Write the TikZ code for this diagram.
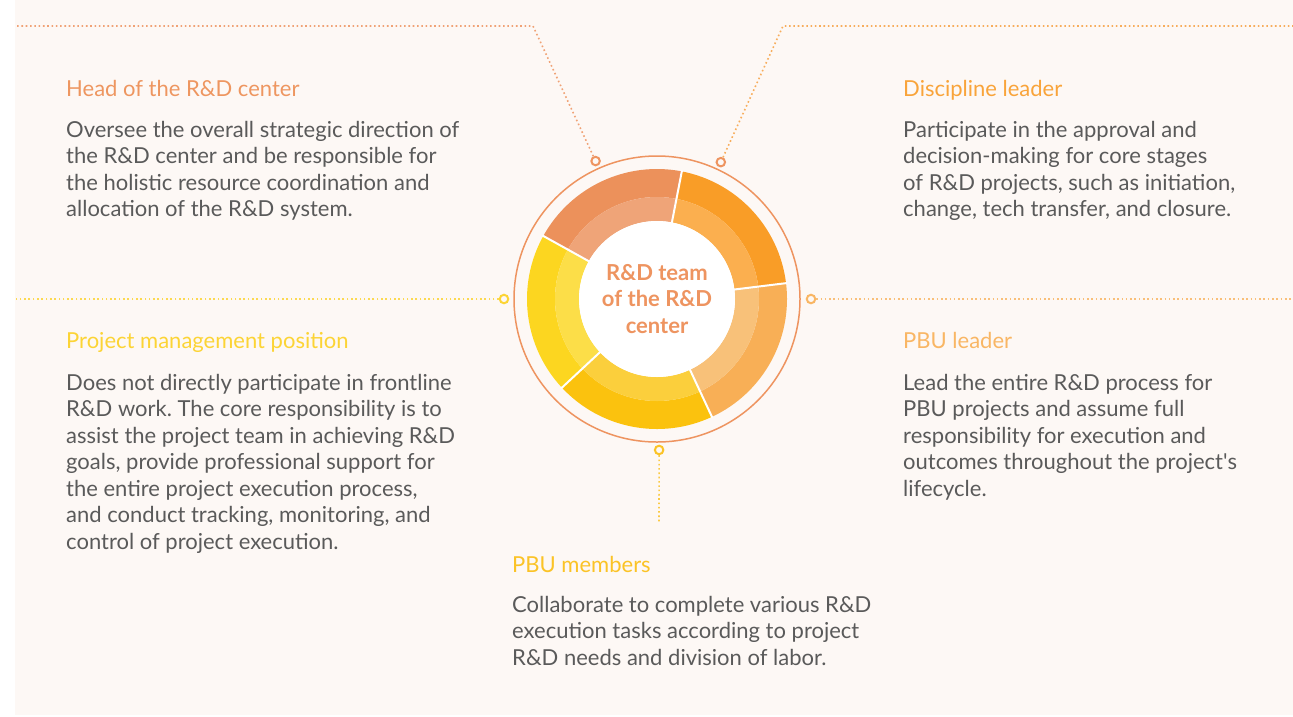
\documentclass[tikz,border=0pt]{standalone}
\usepackage{fontspec}
\setmainfont{Lato}
\definecolor{bg}{HTML}{FDF8F5}
\definecolor{bodygray}{HTML}{5A5A5A}
\definecolor{cHead}{HTML}{EE9660}
\definecolor{cDisc}{HTML}{F9A43A}
\definecolor{cProj}{HTML}{FCD435}
\definecolor{cPBUl}{HTML}{F9B664}
\definecolor{cPBUm}{HTML}{FBC326}
\definecolor{ring}{HTML}{EE9460}
\definecolor{sTRo}{HTML}{F99D27}
\definecolor{sTRi}{HTML}{FBAF4F}
\definecolor{sTLo}{HTML}{EC915B}
\definecolor{sTLi}{HTML}{EFA478}
\definecolor{sLo}{HTML}{FCD620}
\definecolor{sLi}{HTML}{FCDE48}
\definecolor{sBo}{HTML}{FBC20E}
\definecolor{sBi}{HTML}{FBCF3C}
\definecolor{sRo}{HTML}{F8AF56}
\definecolor{sRi}{HTML}{F8C179}
\frenchspacing
\newcommand\plines[1]{\vtop{\hsize=560pt\parindent=0pt\raggedright\baselineskip=26.5pt\relax #1\par}}
\newcommand\clines[1]{\vtop{\hsize=240pt\parindent=0pt\centering\baselineskip=26.5pt\relax #1\par}}
\begin{document}
\begin{tikzpicture}[x=1pt,y=-1pt,
  titletext/.style={anchor=base west, inner sep=0pt, font=\fontsize{22}{26.5}\selectfont},
  bodytext/.style={anchor=base west, inner sep=0pt, text=bodygray, font=\fontsize{22}{26.5}\selectfont},
  marker/.style={circle, inner sep=0pt, minimum size=8.5pt, line width=2pt, fill=bg},
  dotline/.style={line width=1.6pt, dash pattern=on 1.6pt off 2.7pt, opacity=0.85}]
\useasboundingbox (0,0) rectangle (1293,716);
\fill[bg] (15,0) rectangle (1293,715);

% outer thin ring
\draw[ring, line width=1.5pt] (657,299) circle[radius=143];

\begin{scope}[shift={(657,299)}, yscale=-1]
  \foreach \a/\b/\co/\ci in {7/79/sTRo/sTRi, 79/151/sTLo/sTLi, 151/223/sLo/sLi, 223/295/sBo/sBi, 295/367/sRo/sRi}{
    \fill[\co] (\a:130) arc[start angle=\a, end angle=\b, radius=130] -- (\b:102) arc[start angle=\b, end angle=\a, radius=102] -- cycle;
    \fill[\ci] (\a:102) arc[start angle=\a, end angle=\b, radius=102] -- (\b:78) arc[start angle=\b, end angle=\a, radius=78] -- cycle;
  }
  \fill[white] (0,0) circle[radius=78];
  \foreach \a in {7,79,151,223,295}{
    \draw[white, line width=2pt] (\a:77) -- (\a:131);
  }
  \node[marker, draw=ring] (mTL) at (114:151) {};
  \node[marker, draw=ring] (mTR) at (65:151) {};
  \node[marker, draw=cProj] (mL) at (180:153) {};
  \node[marker, draw=cPBUl] (mR) at (0:154) {};
  \node[marker, draw=cPBUm] (mB) at (270.8:151) {};
\end{scope}

\node[anchor=base, inner sep=0pt, text=ring, font=\fontsize{22}{26.5}\selectfont\bfseries] (center) at (657,280)
  {\clines{R\&D team\\of the R\&D\\center}};

% dotted connectors
\coordinate (tl1) at (533,26);
\coordinate (tl0) at (15,26);
\coordinate (tr1) at (783,26);
\coordinate (tr0) at (1293,26);
\coordinate (l0) at (15,299);
\coordinate (r0) at (1293,299);
\coordinate (b0) at (659,523);
\draw[dotline, ring] (mTL) -- (tl1) -- (tl0);
\draw[dotline, cDisc!80!ring] (mTR) -- (tr1) -- (tr0);
\draw[dotline, cProj] (mL) -- (l0);
\draw[dotline, cPBUl] (mR) -- (r0);
\draw[dotline, cPBUm] (mB) -- (b0);

% texts
\node[titletext, text=cHead] (tHead) at (66,96) {Head of the R\&D center};
\node[bodytext] (bHead) at (66,137) {\plines{Oversee the overall strategic direction of\\the R\&D center and be responsible for\\the holistic resource coordination and\\allocation of the R\&D system.}};

\node[titletext, text=cDisc] (tDisc) at (903,96) {Discipline leader};
\node[bodytext] (bDisc) at (903,137) {\plines{Participate in the approval and\\decision-making for core stages\\of R\&D projects, such as initiation,\\change, tech transfer, and closure.}};

\node[titletext, text=cProj] (tProj) at (66,348) {Project management position};
\node[bodytext] (bProj) at (66,390) {\plines{Does not directly participate in frontline\\R\&D work. The core responsibility is to\\assist the project team in achieving R\&D\\goals, provide professional support for\\the entire project execution process,\\and conduct tracking, monitoring, and\\control of project execution.}};

\node[titletext, text=cPBUl] (tPBUl) at (903,348) {PBU leader};
\node[bodytext] (bPBUl) at (903,390) {\plines{Lead the entire R\&D process for\\PBU projects and assume full\\responsibility for execution and\\outcomes throughout the project\textquotesingle s\\lifecycle.}};

\node[titletext, text=cPBUm] (tPBUm) at (512,572) {PBU members};
\node[bodytext] (bPBUm) at (512,612) {\plines{Collaborate to complete various R\&D\\execution tasks according to project\\R\&D needs and division of labor.}};
\end{tikzpicture}
\end{document}
